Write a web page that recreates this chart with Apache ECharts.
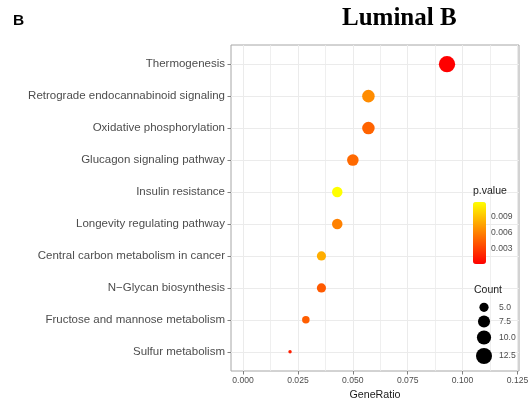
<!DOCTYPE html>
<html>
<head>
<meta charset="utf-8">
<script src="https://cdn.jsdelivr.net/npm/echarts@6/dist/echarts.min.js"></script>
<style>
  html, body { margin: 0; padding: 0; background: #ffffff; }
  #chart { width: 528px; height: 408px; }
</style>
</head>
<body>
<div id="chart"></div>
<script>
// KEGG pathways, listed top to bottom
const pathways = [
  'Thermogenesis',
  'Retrograde endocannabinoid signaling',
  'Oxidative phosphorylation',
  'Glucagon signaling pathway',
  'Insulin resistance',
  'Longevity regulating pathway',
  'Central carbon metabolism in cancer',
  'N\u2212Glycan biosynthesis',
  'Fructose and mannose metabolism',
  'Sulfur metabolism'
];
const geneRatio = [0.0929, 0.0571, 0.0571, 0.0500, 0.0429, 0.0429, 0.0357, 0.0357, 0.0286, 0.0214];
const geneCount = [13, 8, 8, 7, 6, 6, 5, 5, 4, 3];
const pValue = [0.00002, 0.0065, 0.0046, 0.0049, 0.01185, 0.0060, 0.0081, 0.0042, 0.0044, 0.0014];

const xTicks = [0, 0.025, 0.05, 0.075, 0.1, 0.125];
const xMinorTicks = [0.0125, 0.0375, 0.0625, 0.0875, 0.1125];
const pTicks = [0.003, 0.006, 0.009];
const countTicks = [5.0, 7.5, 10.0, 12.5];

const FONT = '"Liberation Sans", Arial, sans-serif';
const GRID_COLOR = '#ebebeb';
const TEXT_GREY = '#4d4d4d';

// area-based size scale: diameter grows with sqrt of rescaled count
const cMin = Math.min(...geneCount), cMax = Math.max(...geneCount);
function dotDiameter(c) {
  const s = 1 + 5 * Math.sqrt((c - cMin) / (cMax - cMin));
  return 2.575 * s + 0.855;
}

const pMin = Math.min(...pValue), pMax = Math.max(...pValue);

const points = geneRatio.map((r, i) => [r, i, geneCount[i], pValue[i]]);

// colour bar geometry
const barLeft = 473, barTop = 202, barW = 13, barH = 62;
const graphics = [];
graphics.push({ type: 'text', z: 100, x: 473, y: 191, style: { text: 'p.value', font: '10.5px ' + FONT, fill: '#222', verticalAlign: 'middle' } });
pTicks.forEach(v => {
  const y = barTop + (pMax - v) / (pMax - pMin) * barH;
  graphics.push({ type: 'text', z: 100, x: 491, y: y, style: { text: v.toFixed(3), font: '8.6px ' + FONT, fill: TEXT_GREY, verticalAlign: 'middle' } });
});
graphics.push({ type: 'text', z: 100, x: 474, y: 290.5, style: { text: 'Count', font: '10.5px ' + FONT, fill: '#222', verticalAlign: 'middle' } });
const countY = [307.3, 321.5, 337.5, 356];
countTicks.forEach((c, k) => {
  graphics.push({ type: 'circle', z: 100, shape: { cx: 484, cy: countY[k], r: dotDiameter(c) / 2 }, style: { fill: '#000' } });
  graphics.push({ type: 'text', z: 100, x: 499, y: countY[k], style: { text: c.toFixed(1), font: '8.6px ' + FONT, fill: TEXT_GREY, verticalAlign: 'middle' } });
});

const chart = echarts.init(document.getElementById('chart'), null, { renderer: 'canvas' });
chart.setOption({
  animation: false,
  backgroundColor: '#ffffff',
  title: [
    { text: 'B', left: 13, top: 13, padding: 0, textStyle: { fontFamily: FONT, fontWeight: 'bold', fontSize: 15.5, color: '#000' } },
    { text: 'Luminal B', left: 342, top: 6, padding: 0, textStyle: { fontFamily: '"Liberation Serif", "Times New Roman", serif', fontWeight: 'bold', fontSize: 25, color: '#000' } }
  ],
  grid: { left: 231, right: 9, top: 45, bottom: 37, show: true, borderColor: '#a6a6a6', borderWidth: 1, outerBoundsMode: 'none', containLabel: false },
  xAxis: [
    {
      type: 'value', min: -0.0055, max: 0.1257,
      name: 'GeneRatio', nameLocation: 'middle', nameGap: 13,
      nameTextStyle: { fontFamily: FONT, fontSize: 10.7, color: '#1a1a1a' },
      axisLine: { show: false, onZero: false },
      axisTick: { show: true, length: 3.5, lineStyle: { color: '#808080' }, customValues: xTicks },
      axisLabel: { customValues: xTicks, margin: 5, fontFamily: FONT, fontSize: 8.6, color: TEXT_GREY, formatter: v => v.toFixed(3), hideOverlap: false },
      splitLine: { show: true, lineStyle: { color: GRID_COLOR, width: 1 } }
    },
    {
      type: 'value', min: -0.0055, max: 0.1257, position: 'bottom',
      axisLine: { show: false, onZero: false },
      axisTick: { show: false, customValues: xMinorTicks },
      axisLabel: { show: false, customValues: xMinorTicks },
      splitLine: { show: true, lineStyle: { color: GRID_COLOR, width: 0.8 } }
    }
  ],
  yAxis: {
    type: 'value', min: -0.6, max: 9.6, inverse: true,
    axisLine: { show: false, onZero: false },
    axisTick: { show: true, length: 3.5, lineStyle: { color: '#808080' }, customValues: pathways.map((_, i) => i) },
    axisLabel: { customValues: pathways.map((_, i) => i), margin: 6, fontFamily: FONT, fontSize: 11.5, color: TEXT_GREY, formatter: v => pathways[Math.round(v)] },
    splitLine: { show: true, lineStyle: { color: GRID_COLOR, width: 1 } }
  },
  visualMap: {
    type: 'continuous', seriesIndex: 0, dimension: 3,
    min: pMin, max: pMax, calculable: false, hoverLink: false,
    orient: 'vertical', left: barLeft, top: barTop, itemWidth: barW, itemHeight: barH,
    padding: 0, inRange: { color: ['#ff0000', '#ffff00'] }
  },
  series: [{
    type: 'scatter', xAxisIndex: 0, yAxisIndex: 0,
    data: points,
    symbolSize: v => dotDiameter(v[2]),
    itemStyle: { opacity: 1 },
    z: 5
  }],
  graphic: graphics
});
</script>
</body>
</html>
